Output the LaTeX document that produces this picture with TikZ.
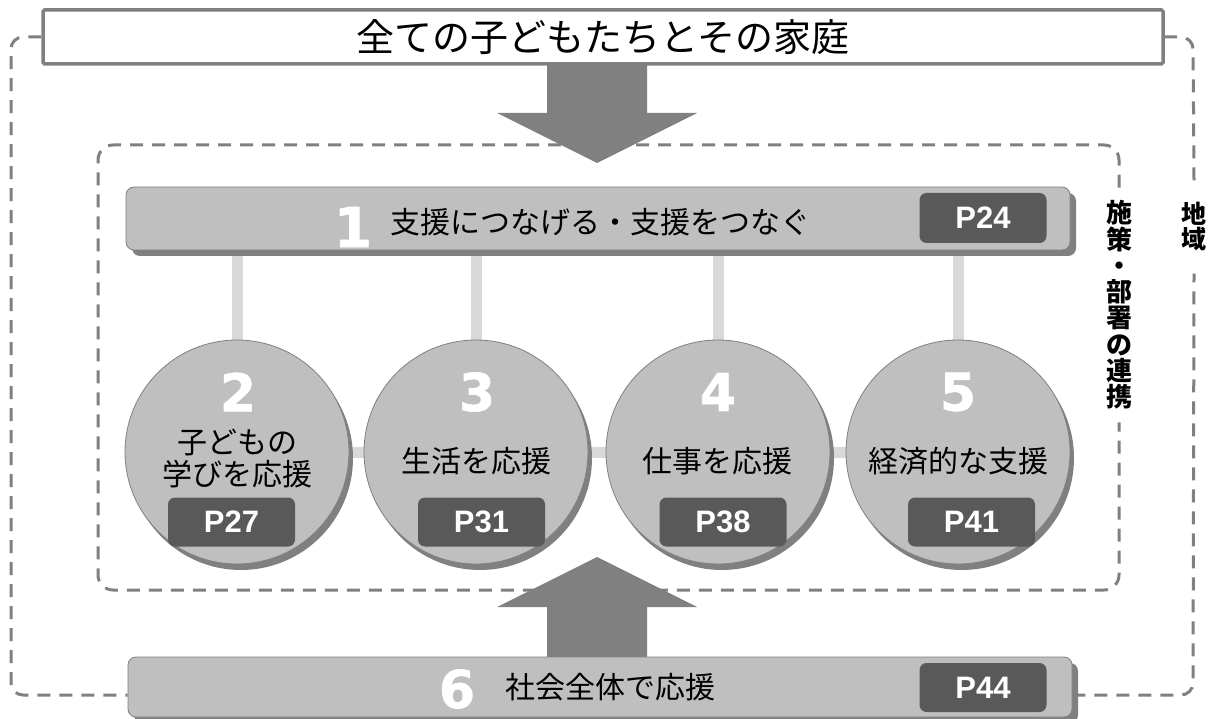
\documentclass[tikz,border=0pt]{standalone}
\usepackage{fontspec}
\setmainfont{Noto Sans CJK JP}
\newfontfamily\numfont{DejaVu Sans}[BoldFeatures={FakeBold=1.2}]
\newfontfamily\pfont{Liberation Sans}
\usetikzlibrary{shadows,backgrounds}
\definecolor{lg}{HTML}{BFBFBF}
\definecolor{mg}{HTML}{808080}
\definecolor{dg}{HTML}{595959}
\definecolor{cg}{HTML}{D9D9D9}
\tikzset{
  frameline/.style={draw=mg, line width=3pt, dash pattern=on 13pt off 9pt},
  titlebox/.style={draw=mg, line width=3.5pt, fill=white, rounded corners=1.5pt, minimum width=1120pt, minimum height=54pt, inner sep=0pt, font=\fontsize{38}{38}\selectfont},
  bigbar/.style={draw=mg, line width=0.8pt, fill=lg, rounded corners=8pt, minimum width=944pt, inner sep=0pt, general shadow={fill=mg, shadow xshift=6pt, shadow yshift=-6pt}},
  circ/.style={circle, draw=mg, line width=0.8pt, fill=lg, minimum size=224pt, inner sep=0pt, general shadow={fill=mg, shadow xshift=4pt, shadow yshift=-6pt}},
  pbox/.style={fill=dg, rounded corners=7pt, minimum width=127pt, minimum height=49pt, inner sep=0pt, text=white, font=\pfont\bfseries\fontsize{31}{31}\selectfont},
  num/.style={text=white, font=\numfont\bfseries\fontsize{52}{52}\selectfont, inner sep=0pt},
  jtext/.style={font=\fontsize{30}{32}\selectfont, inner sep=0pt, align=center},
  vtext/.style={font=\bfseries\fontsize{26}{26.25}\selectfont, align=center, inner xsep=2pt},
  link/.style={draw=cg, line width=11pt},
  bigarrow/.style={fill=mg}
}
\begin{document}
\begin{tikzpicture}[x=1pt,y=-1pt]
\useasboundingbox (0,0) rectangle (1215,719);
% nodes
\node[titlebox] (top) at (603,37) {全ての子どもたちとその家庭};
\node[bigbar, minimum height=63pt] (b1) at (598,218.5) {};
\node[num, font=\numfont\bfseries\fontsize{55}{55}\selectfont] (n1) at (353,227) {1};
\node[jtext, anchor=west] (t1) at (390,222) {支援につなげる・支援をつなぐ};
\node[pbox, minimum height=50pt] (p1) at (983,218) {P24};

\node[circ] (c2) at (237,452) {};
\node[circ] (c3) at (476,452) {};
\node[circ] (c4) at (718,452) {};
\node[circ] (c5) at (958,452) {};

\node[num] (n2) at (238,392) {2};
\node[num] (n3) at (477,392) {3};
\node[num] (n4) at (718,392) {4};
\node[num] (n5) at (958,392) {5};

\node[jtext] (t2) at (237,459) {子どもの\\学びを応援};
\node[jtext] (t3) at (476.5,461) {生活を応援};
\node[jtext] (t4) at (717.5,461) {仕事を応援};
\node[jtext] (t5) at (958.5,461) {経済的な支援};

\node[pbox] (p2) at (231.5,522) {P27};
\node[pbox] (p3) at (481.5,522) {P31};
\node[pbox] (p4) at (723,522) {P38};
\node[pbox] (p5) at (971.5,522) {P41};

\node[bigbar, minimum height=60pt] (b6) at (600,687) {};
\node[num, font=\numfont\bfseries\fontsize{52}{52}\selectfont] (n6) at (457,689) {6};
\node[jtext, anchor=west] (t6) at (505,687) {社会全体で応援};
\node[pbox] (p6) at (983,687.5) {P44};

\node[vtext, inner ysep=13pt] (vt1) at (1119,305) {施\\策\\・\\部\\署\\の\\連\\携};
\node[vtext, inner ysep=22pt, font=\bfseries\fontsize{25}{25}\selectfont] (vt2) at (1194,227) {地\\域};

\coordinate (obl) at (11,695);

\begin{scope}[on background layer]
  % outer frame
  \draw[frameline, rounded corners=12pt] (top.west) -- (11,37) -- (obl) -- (b6.west |- obl);
  \draw[frameline, rounded corners=12pt] (b6.east |- obl) -- (1193,695) -- (vt2.south);
  \draw[frameline, rounded corners=12pt] (vt2.north) -- (1193,37) -- (top.east);
  % inner frame
  \draw[frameline, rounded corners=15pt] (vt1.north) |- (98,145) |- (1119,590) -- (vt1.south);
  % arrows
  \fill[bigarrow] (547,64) -- (647,64) -- (647,113) -- (697,113) -- (597,163) -- (497,113) -- (547,113) -- cycle;
  \fill[bigarrow] (597,557) -- (697,607) -- (647,607) -- (647,657) -- (547,657) -- (547,607) -- (497,607) -- cycle;
  % links
  \draw[link] (c2.center) -- (c5.center);
  \foreach \c in {c2,c3,c4,c5}{
    \draw[link] (\c.north) -- (\c.north |- b1.south);
  }
\end{scope}
\end{tikzpicture}
\end{document}
